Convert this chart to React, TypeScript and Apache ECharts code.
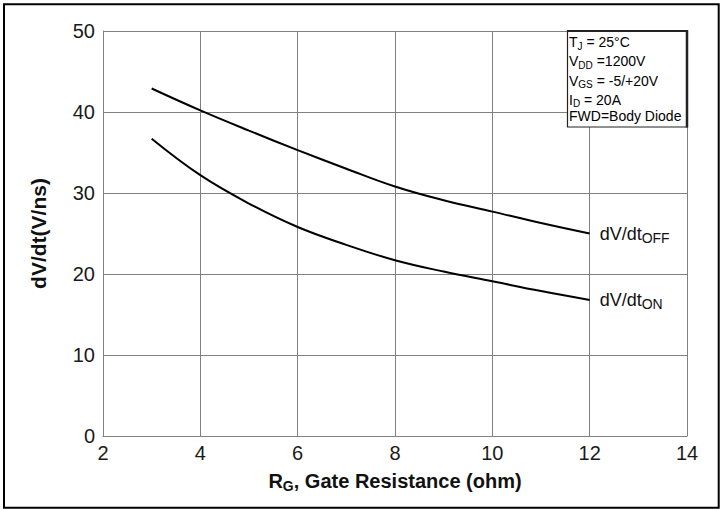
import React, { useEffect, useRef } from "react";
import * as echarts from "echarts";

const rgValues = [3, 4, 5, 6, 7, 8, 9, 10, 11, 12];
const dvdtOff = [42.9, 40.2, 37.7, 35.3, 33.0, 30.8, 29.1, 27.7, 26.3, 25.0];
const dvdtOn = [36.7, 32.2, 28.7, 25.8, 23.6, 21.7, 20.3, 19.1, 17.9, 16.8];
const conditionLines = [
  ["T", "J", " = 25°C"],
  ["V", "DD", " =1200V"],
  ["V", "GS", " = -5/+20V"],
  ["I", "D", " = 20A"],
  ["FWD=Body Diode", "", ""],
];

const FONT = "Liberation Sans, Arial, sans-serif";

export default function App() {
  const ref = useRef<HTMLDivElement>(null);
  useEffect(() => {
    if (!ref.current) return;
    const chart = echarts.init(ref.current, undefined, { renderer: "svg" });
    const subRich = (size: number, subSize: number, weight: string) => ({
      m: { fontSize: size, fontFamily: FONT, fontWeight: weight, color: "#111", lineHeight: size + 4 },
      s: {
        fontSize: subSize,
        fontFamily: FONT,
        fontWeight: weight,
        color: "#111",
        lineHeight: subSize,
        padding: [size + 4 - subSize + 1, 0, 0, 0],
        verticalAlign: "bottom",
      },
    });
    const boxTexts = conditionLines.map((l, i) => ({
      type: "text",
      left: 569,
      top: 32 + i * 19.3,
      z: 20,
      style: {
        text: l[1] ? `{m|${l[0]}}{s|${l[1]}}{m|${l[2]}}` : `{m|${l[0]}}`,
        rich: subRich(14, 10, "normal"),
      },
    }));
    const lineSeries = (name: string, data: number[], sub: string) => ({
      name,
      type: "line",
      smooth: 0.4,
      symbol: "none",
      data: rgValues.map((x, i) => [x, data[i]]),
      lineStyle: { color: "#000", width: 2 },
      endLabel: {
        show: true,
        distance: 10,
        formatter: `{m|dV/dt}{s|${sub}}`,
        rich: subRich(18, 14, "normal"),
      },
    });
    chart.setOption({
      animation: false,
      backgroundColor: "#fff",
      grid: { left: 103, right: 38, top: 31, bottom: 73, containLabel: false },
      xAxis: {
        type: "value",
        min: 2,
        max: 14,
        interval: 2,
        axisLine: { show: true, lineStyle: { color: "#808080", width: 1 } },
        axisTick: { show: false },
        axisLabel: { fontSize: 20, fontFamily: FONT, color: "#1a1a1a", margin: 7 },
        splitLine: { show: true, lineStyle: { color: "#808080", width: 1 } },
        name: "{m|R}{s|G}{m|, Gate Resistance (ohm)}",
        nameLocation: "middle",
        nameGap: 33,
        nameTextStyle: { rich: subRich(20, 14, "bold") },
      },
      yAxis: {
        type: "value",
        min: 0,
        max: 50,
        interval: 10,
        axisLine: { show: true, lineStyle: { color: "#808080", width: 1 } },
        axisTick: { show: false },
        axisLabel: { fontSize: 20, fontFamily: FONT, color: "#1a1a1a", margin: 8 },
        splitLine: { show: true, lineStyle: { color: "#808080", width: 1 } },
        name: "dV/dt(V/ns)",
        nameLocation: "middle",
        nameGap: 54,
        nameTextStyle: { fontSize: 21, fontWeight: "bold", fontFamily: FONT, color: "#111" },
      },
      series: [lineSeries("dV/dt OFF", dvdtOff, "OFF"), lineSeries("dV/dt ON", dvdtOn, "ON")],
      graphic: [
        {
          type: "rect",
          shape: { x: 4, y: 4.3, width: 714.7, height: 503.4 },
          style: { fill: "none", stroke: "#000", lineWidth: 2 },
          z: 30,
        },
        {
          type: "rect",
          shape: { x: 567.5, y: 30.5, width: 119.5, height: 96.5 },
          style: { fill: "#fff", stroke: "#222", lineWidth: 1.2 },
          z: 15,
        },
        {
          type: "line",
          shape: { x1: 687, y1: 30, x2: 687, y2: 127.5 },
          style: { stroke: "#222", lineWidth: 2.5 },
          z: 16,
        },
        {
          type: "line",
          shape: { x1: 567, y1: 31, x2: 688, y2: 31 },
          style: { stroke: "#222", lineWidth: 2 },
          z: 16,
        },
        ...boxTexts,
      ],
    });
    return () => chart.dispose();
  }, []);
  return (
    <div
      ref={ref}
      style={{ position: "fixed", left: 0, top: 0, width: 725, height: 509, background: "#fff" }}
    />
  );
}
